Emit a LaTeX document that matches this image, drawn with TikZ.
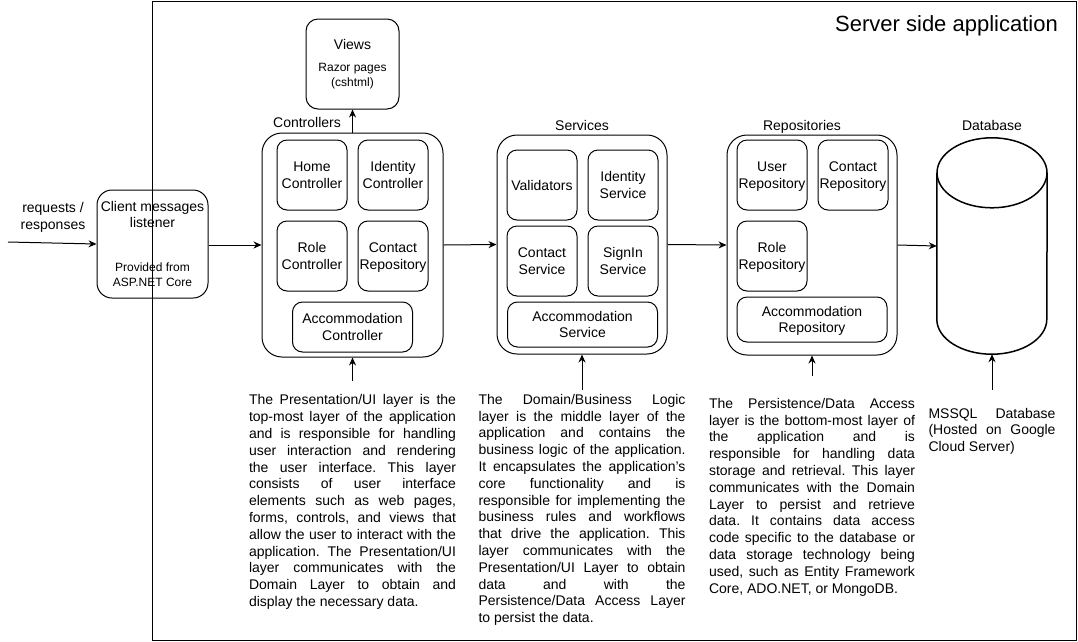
\documentclass[tikz,border=0pt]{standalone}
\usepackage{fontspec}
\setmainfont{Liberation Sans}
\usetikzlibrary{arrows.meta, positioning, calc}
\newcommand{\sublabelfont}{\fontsize{12}{14.4}\selectfont}
\frenchspacing

\begin{document}
\begin{tikzpicture}[
    x=1pt, y=-1pt,
    font=\fontsize{14}{16.8}\selectfont,
    groupbox/.style={draw, line width=1pt, rounded corners=20pt, inner sep=0pt},
    itembox/.style={draw, line width=1pt, rounded corners=10pt, minimum width=70pt, minimum height=70pt, inner sep=0pt, text depth=0pt, align=center},
    widebox/.style={itembox, minimum width=150pt, minimum height=45pt},
    grouplabel/.style={inner sep=0pt, anchor=base},
    desctext/.style={text width=207pt, align=justify, inner sep=0pt, execute at begin node={\hyphenpenalty=10000\exhyphenpenalty=10000}},
    arrow/.style={-{Stealth[length=8pt, width=7pt]}, line width=1pt},
    dbline/.style={line width=1.5pt}
]
\useasboundingbox (0,0) rectangle (1078,641);

% Application frame
\draw [line width=1pt] (152,1) rectangle (1076.5,640);
\node (apptitle) [font=\fontsize{22}{26}\selectfont, anchor=east, inner sep=0pt] at (1058,26) {Server side application};

% Client listener
\coordinate (reqin) at (8,242);
\node (reqlabel) [align=center, inner sep=0pt] at (53,217) {requests /\\responses};
\node (client) [draw, line width=1pt, rounded corners=15pt, minimum width=111pt, minimum height=108pt, inner sep=0pt, align=center] at (152.5,244)
    {Client messages\\listener\\[27pt]\sublabelfont Provided from\\[-1.5pt]\sublabelfont ASP.NET Core};

% Controllers
\node (ctrl) [groupbox, minimum width=181pt, minimum height=224pt] at (352.5,245) {};
\node (ctrllabel) [grouplabel] at (307,127) {Controllers};
\node (views) [draw, line width=1pt, rounded corners=12pt, minimum width=93pt, minimum height=90pt, inner sep=0pt, align=center] at (352.5,64)
    {Views\\[5pt]\sublabelfont Razor pages\\[-2pt]\sublabelfont (cshtml)};
\node (homectrl) [itembox] at (312,175) {Home\\Controller};
\node (identctrl) [itembox, right=10pt of homectrl] {Identity\\Controller};
\node (rolectrl) [itembox, below=10pt of homectrl] {Role\\Controller};
\node (contctrl) [itembox, below=10pt of identctrl] {Contact\\Repository};
\node (accctrl) [widebox, minimum width=120pt, minimum height=50pt, anchor=north] at ($(rolectrl.south)!0.5!(contctrl.south)+(0,10)$) {Accommodation\\Controller};

% Services
\node (svc) [groupbox, minimum width=170pt, minimum height=219pt] at (582,244.5) {};
\node (svclabel) [grouplabel] at (582,130) {Services};
\node (validsvc) [itembox] at (542,185) {Validators};
\node (identsvc) [itembox, right=10pt of validsvc] {Identity\\Service};
\node (contsvc) [itembox, below=5pt of validsvc] {Contact\\Service};
\node (signsvc) [itembox, below=5pt of identsvc] {SignIn\\Service};
\node (accsvc) [widebox, anchor=north] at ($(contsvc.south)!0.5!(signsvc.south)+(0,5)$) {Accommodation\\Service};

% Repositories
\node (repo) [groupbox, minimum width=170pt, minimum height=220pt] at (812,245) {};
\node (repolabel) [grouplabel] at (802,130) {Repositories};
\node (userrepo) [itembox] at (772,175) {User\\Repository};
\node (contrepo) [itembox, right=10pt of userrepo] {Contact\\Repository};
\node (rolerepo) [itembox, below=10pt of userrepo] {Role\\Repository};
\node (accrepo) [widebox, anchor=north] at ($(rolerepo.south)+(40,5)$) {Accommodation\\Repository};

% Database
\node (db) [minimum width=110pt, minimum height=216pt, inner sep=0pt] at (992,246) {};
\node (dblabel) [grouplabel] at (992,130) {Database};
\draw [dbline] ($(db.north)+(0,35)$) ellipse [x radius=55pt, y radius=35pt];
\draw [dbline] ($(db.north west)+(0,35)$) -- ($(db.south west)+(0,-35)$)
    arc [start angle=180, end angle=360, x radius=55pt, y radius=35pt] -- ($(db.north east)+(0,35)$);

% Layer descriptions
\node (uitext) [desctext, below=37pt of ctrl] {The Presentation/UI layer is the\linebreak
top-most layer of the application\linebreak
and is responsible for handling\linebreak
user interaction and rendering\linebreak
the user interface. This layer\linebreak
consists of user interface\linebreak
elements such as web pages,\linebreak
forms, controls, and views that\linebreak
allow the user to interact with the\linebreak
application. The Presentation/UI\linebreak
layer communicates with the\linebreak
Domain Layer to obtain and\linebreak
display the necessary data.};
\node (domtext) [desctext, below=39.5pt of svc] {The Domain/Business Logic\linebreak
layer is the middle layer of the\linebreak
application and contains the\linebreak
business logic of the application.\linebreak
It encapsulates the application's\linebreak
core functionality and is\linebreak
responsible for implementing the\linebreak
business rules and workflows\linebreak
that drive the application. This\linebreak
layer communicates with the\linebreak
Presentation/UI Layer to obtain\linebreak
data and with the\linebreak
Persistence/Data Access Layer\linebreak
to persist the data.};
\node (pertext) [desctext, text width=206pt, below=42.5pt of repo] {The Persistence/Data Access\linebreak
layer is the bottom-most layer of\linebreak
the application and is\linebreak
responsible for handling data\linebreak
storage and retrieval. This layer\linebreak
communicates with the Domain\linebreak
Layer to persist and retrieve\linebreak
data. It contains data access\linebreak
code specific to the database or\linebreak
data storage technology being\linebreak
used, such as Entity Framework\linebreak
Core, ADO.NET, or MongoDB.};
\node (dbtext) [desctext, text width=127pt, below=53.5pt of db] {MSSQL Database\linebreak
(Hosted on Google\linebreak
Cloud Server)};

% Arrows
\draw [arrow] (reqin) -- (client.west);
\draw [arrow] (ctrl.west -| client.east) -- (ctrl.west);
\draw [arrow] (ctrl.east) -- (svc.west);
\draw [arrow] (svc.east) -- (repo.west);
\draw [arrow] (repo.east) -- (db.west);
\draw [arrow] (ctrl.north) -- (views.south);
\draw [arrow] ([yshift=14pt]uitext.north) -- (ctrl.south);
\draw [arrow] ([yshift=4pt]domtext.north) -- (svc.south);
\draw [arrow] ([yshift=22.5pt]pertext.north) -- (repo.south);
\draw [arrow] ([yshift=17.5pt]dbtext.north) -- (db.south);

\end{tikzpicture}
\end{document}
